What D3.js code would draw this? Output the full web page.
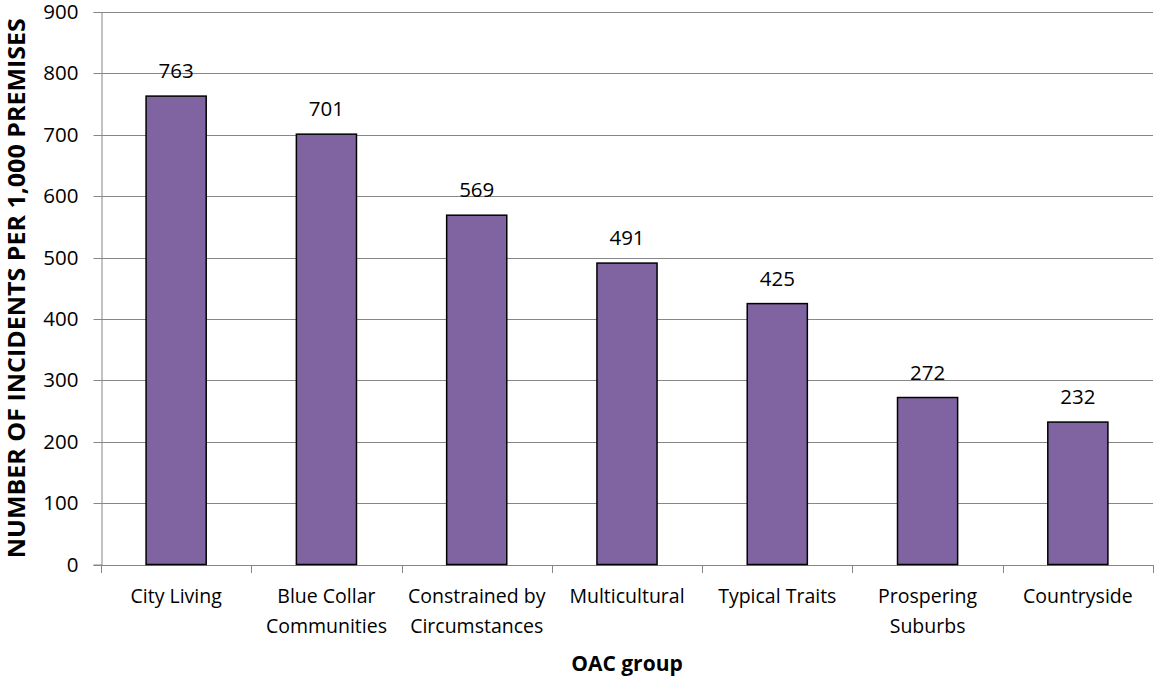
<!DOCTYPE html>
<html>
<head>
<meta charset="utf-8">
<script src="https://cdn.jsdelivr.net/npm/d3@7"></script>
<style>
  body { margin: 0; background: #fff; }
  svg { display: block; font-family: "Open Sans", "Liberation Sans", sans-serif; }
</style>
</head>
<body>
<svg id="chart" width="1155" height="679"></svg>
<script>
// Incident rates by OAC group
const categories = ["City Living", "Blue Collar Communities", "Constrained by Circumstances", "Multicultural", "Typical Traits", "Prospering Suburbs", "Countryside"];
const categoryLines = [["City Living"], ["Blue Collar", "Communities"], ["Constrained by", "Circumstances"], ["Multicultural"], ["Typical Traits"], ["Prospering", "Suburbs"], ["Countryside"]];
const values = [763, 701, 569, 491, 425, 272, 232];
const yTicks = [0, 100, 200, 300, 400, 500, 600, 700, 800, 900];

const svg = d3.select("#chart");
const W = 1155, H = 679;
const x0 = 101, x1 = W - 2;
const yTop = 12, yBot = 564.5;

const x = d3.scaleBand().domain(categories).range([x0, x1]).paddingInner(0.6).paddingOuter(0.3);
const xOuter = d3.scaleBand().domain(categories).range([x0, x1]);
const y = d3.scaleLinear().domain([0, 900]).range([yBot, yTop]);

// Gridlines
svg.append("g").selectAll("line").data(yTicks.filter(d => d > 0)).join("line")
  .attr("x1", x0).attr("x2", x1)
  .attr("y1", d => Math.round(y(d)) + 0.5).attr("y2", d => Math.round(y(d)) + 0.5)
  .attr("stroke", "#868686").attr("stroke-width", 1);

// Y axis
const yAxis = svg.append("g").attr("transform", `translate(${x0 + 0.5},0)`)
  .call(d3.axisLeft(y).tickValues(yTicks).tickSize(8).tickPadding(15));
yAxis.select(".domain").attr("stroke", "#868686");
yAxis.selectAll(".tick line").attr("stroke", "#868686");
yAxis.selectAll(".tick text").attr("font-size", 20.5).attr("fill", "#000")
  .attr("font-family", "Open Sans, sans-serif");
yAxis.selectAll(".tick").attr("transform", d => `translate(0,${Math.round(y(d)) + 0.5})`);

// X axis line + ticks at category boundaries
svg.append("line").attr("x1", x0).attr("x2", x1)
  .attr("y1", Math.round(yBot) + 0.5).attr("y2", Math.round(yBot) + 0.5)
  .attr("stroke", "#868686");
const bounds = categories.map(c => xOuter(c)).concat([x1]);
svg.append("g").selectAll("line").data(bounds).join("line")
  .attr("x1", d => Math.round(d) + 0.5).attr("x2", d => Math.round(d) + 0.5)
  .attr("y1", Math.round(yBot)).attr("y2", Math.round(yBot) + 8)
  .attr("stroke", "#868686");

// Bars
svg.append("g").selectAll("rect").data(values).join("rect")
  .attr("x", (d, i) => x(categories[i]))
  .attr("y", d => y(d))
  .attr("width", x.bandwidth())
  .attr("height", d => y(0) - y(d))
  .attr("fill", "#8064A2")
  .attr("stroke", "#000").attr("stroke-width", 1.5);

// Value labels
svg.append("g").selectAll("text").data(values).join("text")
  .attr("x", (d, i) => x(categories[i]) + x.bandwidth() / 2)
  .attr("y", d => y(d) - 18)
  .attr("text-anchor", "middle").attr("font-size", 20.5).attr("fill", "#000")
  .text(d => d);

// Category labels
const cl = svg.append("g").selectAll("text").data(categoryLines).join("text")
  .attr("x", (d, i) => xOuter(categories[i]) + xOuter.bandwidth() / 2)
  .attr("y", 603)
  .attr("text-anchor", "middle").attr("font-size", 19.5).attr("fill", "#000");
cl.selectAll("tspan").data(d => d).join("tspan")
  .attr("x", function() { return d3.select(this.parentNode).attr("x"); })
  .attr("dy", (d, i) => i === 0 ? 0 : 30)
  .text(d => d);

// Axis titles
svg.append("text").attr("x", 627).attr("y", 671)
  .attr("text-anchor", "middle").attr("font-size", 21).attr("font-weight", "bold")
  .text("OAC group");
svg.append("text").attr("transform", `translate(25,${(yTop + yBot) / 2}) rotate(-90)`)
  .attr("text-anchor", "middle").attr("font-size", 23).attr("font-weight", "bold")
  .attr("textLength", 540).attr("lengthAdjust", "spacingAndGlyphs")
  .text("NUMBER OF INCIDENTS PER 1,000 PREMISES");
</script>
</body>
</html>
